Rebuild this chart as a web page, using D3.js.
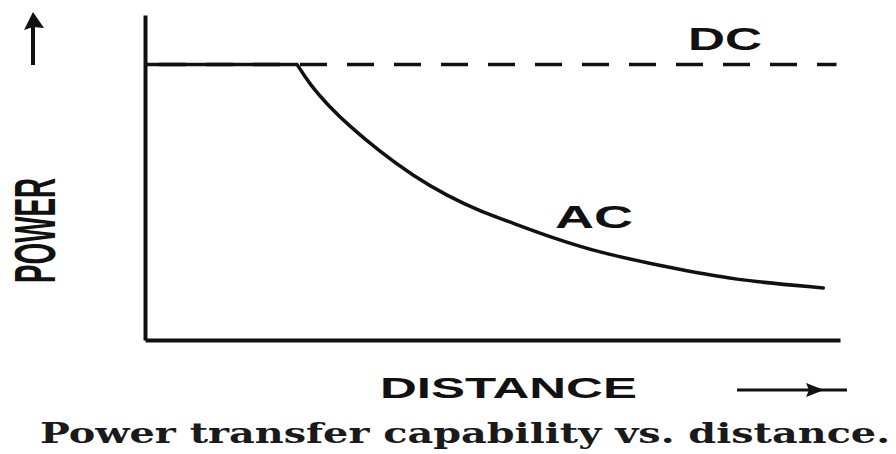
<!DOCTYPE html>
<html>
<head>
<meta charset="utf-8">
<script src="https://cdn.jsdelivr.net/npm/d3@7"></script>
<style>
  body { margin: 0; background: #fff; }
  svg { display: block; }
  .axis path { stroke: #111; stroke-width: 4; }
  .label { font-family: "Liberation Sans", Arial, sans-serif; font-weight: bold; fill: #111; }
  .caption { font-family: "DejaVu Serif", "Liberation Serif", serif; font-weight: bold; fill: #1a1a1a; }
</style>
</head>
<body>
<svg id="chart"></svg>
<script>
// Distance (relative units) and power (DC level = 100)
const acDistance = [0, 21.9, 23.7, 26.6, 29.1, 33.8, 38.6, 43.5, 48.2, 52.9, 58.3, 65.5, 75.1, 84.6, 97.6];
const acPower    = [100, 100, 92.8, 84.5, 78.4, 68.3, 59.6, 52.3, 46.8, 42.5, 37.4, 31.6, 26.5, 21.8, 18.9];
const dcDistance = [0, 99.5];
const dcPower    = [100, 100];

const seriesLabels = ["DC", "AC"];
const axisLabels = {x: "DISTANCE", y: "POWER"};
const caption = "Power transfer capability vs. distance.";

const width = 896, height = 454;
const margin = {top: 15, right: 56, bottom: 114, left: 145};

const svg = d3.select('#chart')
    .attr('width', width)
    .attr('height', height);

const x = d3.scaleLinear()
    .domain([0, 100])
    .range([margin.left, width - margin.right]);

const y = d3.scaleLinear()
    .domain([0, 118])
    .range([height - margin.bottom, margin.top]);

// Axes: bare lines, no ticks
svg.append('g')
    .attr('class', 'axis x-axis')
    .attr('transform', `translate(0,${y(0)})`)
    .call(d3.axisBottom(x).tickValues([]).tickSizeOuter(0));

svg.append('g')
    .attr('class', 'axis y-axis')
    .attr('transform', `translate(${x(0)},0)`)
    .call(d3.axisLeft(y).tickValues([]).tickSizeOuter(0));

const line = d3.line()
    .x(d => x(d[0]))
    .y(d => y(d[1]));

// DC, dashed
svg.append('path')
    .datum(d3.zip(dcDistance, dcPower))
    .attr('fill', 'none')
    .attr('stroke', '#111')
    .attr('stroke-width', 3.5)
    .attr('stroke-dasharray', '27,20')
    .attr('stroke-dashoffset', 33)
    .attr('d', line);

// AC, solid: flat plateau, then a sharp knee into the decline
const acPoints = d3.zip(acDistance, acPower);
const knee = acPower.lastIndexOf(100);

svg.append('path')
    .datum(acPoints.slice(0, knee + 1))
    .attr('fill', 'none')
    .attr('stroke', '#111')
    .attr('stroke-width', 3.5)
    .attr('d', line);

svg.append('path')
    .datum(acPoints.slice(knee))
    .attr('fill', 'none')
    .attr('stroke', '#111')
    .attr('stroke-width', 3.5)
    .attr('stroke-linecap', 'round')
    .attr('d', d3.line().x(d => x(d[0])).y(d => y(d[1])).curve(d3.curveBasis));

// Series labels
svg.append('text')
    .attr('class', 'label')
    .attr('x', 688).attr('y', 50)
    .attr('font-size', 31)
    .attr('textLength', 74).attr('lengthAdjust', 'spacingAndGlyphs')
    .text(seriesLabels[0]);

svg.append('text')
    .attr('class', 'label')
    .attr('x', 555).attr('y', 228)
    .attr('font-size', 32)
    .attr('textLength', 78).attr('lengthAdjust', 'spacingAndGlyphs')
    .text(seriesLabels[1]);

// Axis titles
svg.append('text')
    .attr('class', 'label')
    .attr('transform', 'translate(55,283) rotate(-90)')
    .attr('font-size', 58)
    .attr('textLength', 105).attr('lengthAdjust', 'spacingAndGlyphs')
    .text(axisLabels.y);

svg.append('text')
    .attr('class', 'label')
    .attr('x', 380).attr('y', 398)
    .attr('font-size', 29)
    .attr('textLength', 257).attr('lengthAdjust', 'spacingAndGlyphs')
    .text(axisLabels.x);

// Direction arrows
svg.append('line')
    .attr('x1', 33).attr('x2', 33)
    .attr('y1', 65).attr('y2', 22)
    .attr('stroke', '#111').attr('stroke-width', 4);
svg.append('path')
    .attr('d', 'M33,12 L24,30 L33,27 L44,28 Z')
    .attr('fill', '#111');

svg.append('line')
    .attr('x1', 737).attr('x2', 847)
    .attr('y1', 390).attr('y2', 390)
    .attr('stroke', '#111').attr('stroke-width', 3);
svg.append('path')
    .attr('d', 'M824,390 L806,383 L809,390 L806,397 Z')
    .attr('fill', '#111');

// Caption
svg.append('text')
    .attr('class', 'caption')
    .attr('x', 40).attr('y', 443)
    .attr('font-size', 27)
    .attr('textLength', 850).attr('lengthAdjust', 'spacingAndGlyphs')
    .text(caption);
</script>
</body>
</html>
